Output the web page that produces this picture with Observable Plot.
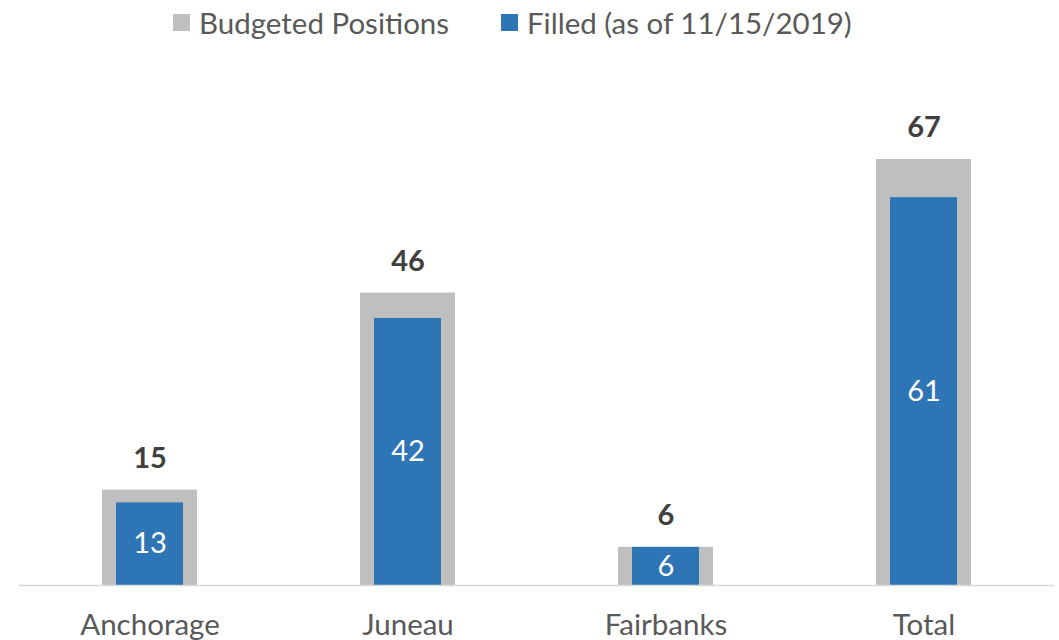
<!DOCTYPE html>
<html>
<head>
<meta charset="utf-8">
<script src="https://cdn.jsdelivr.net/npm/d3@7"></script>
<script src="https://cdn.jsdelivr.net/npm/@observablehq/plot@0.6"></script>
<style>
  html, body { margin: 0; padding: 0; background: #fff; }
  body { width: 1059px; height: 640px; overflow: hidden; font-family: Lato, "Open Sans", sans-serif; }
  #legend { position: relative; height: 45px; color: #595959; font-size: 29.5px; }
  .item { position: absolute; top: 0; height: 45px; display: flex; align-items: center; white-space: nowrap; }
  .sw { width: 17px; height: 17px; margin-right: 9px; margin-top: 0px; }
  #chart svg { display: block; }
</style>
</head>
<body>
<div id="legend"></div>
<div id="chart"></div>
<script>
const categories = ["Anchorage", "Juneau", "Fairbanks", "Total"];
const budgeted = [15, 46, 6, 67];
const filled = [13, 42, 6, 61];
const seriesNames = ["Budgeted Positions", "Filled (as of 11/15/2019)"];
const seriesColors = ["#BFBFBF", "#2E75B6"];

const data = categories.map((c, i) => ({category: c, budgeted: budgeted[i], filled: filled[i]}));

// legend
const legend = document.getElementById("legend");
const legendLeft = [173, 501];
seriesNames.forEach((name, i) => {
  const item = document.createElement("div");
  item.className = "item";
  item.style.left = legendLeft[i] + "px";
  const sw = document.createElement("span");
  sw.className = "sw";
  sw.style.background = seriesColors[i];
  const t = document.createElement("span");
  t.textContent = name;
  item.appendChild(sw);
  item.appendChild(t);
  legend.appendChild(item);
});

const chart = Plot.plot({
  width: 1059,
  height: 595,
  marginTop: 114,
  marginBottom: 55,
  marginLeft: 19,
  marginRight: 5,
  style: {fontFamily: "Lato, 'Open Sans', sans-serif", background: "#fff"},
  x: {domain: categories, paddingInner: 0.633, paddingOuter: 0.3165},
  y: {domain: [0, 67], axis: null},
  marks: [
    Plot.barY(data, {x: "category", y: "budgeted", fill: seriesColors[0]}),
    Plot.barY(data, {x: "category", y: "filled", fill: seriesColors[1], insetLeft: 14, insetRight: 14}),
    Plot.ruleY([0], {stroke: "#D9D9D9", strokeWidth: 1.5}),
    Plot.text(data, {x: "category", y: "budgeted", text: d => String(d.budgeted), dy: -31.5, fontWeight: "bold", fontSize: 29, fill: "#404040"}),
    Plot.text(data, {x: "category", y: d => d.filled / 2, text: d => String(d.filled), fontSize: 29, fill: "#ffffff"}),
    Plot.axisX({tickSize: 0, tickPadding: 29, fontSize: 29.5, fill: "#595959", label: null})
  ]
});
document.getElementById("chart").appendChild(chart);
</script>
</body>
</html>
